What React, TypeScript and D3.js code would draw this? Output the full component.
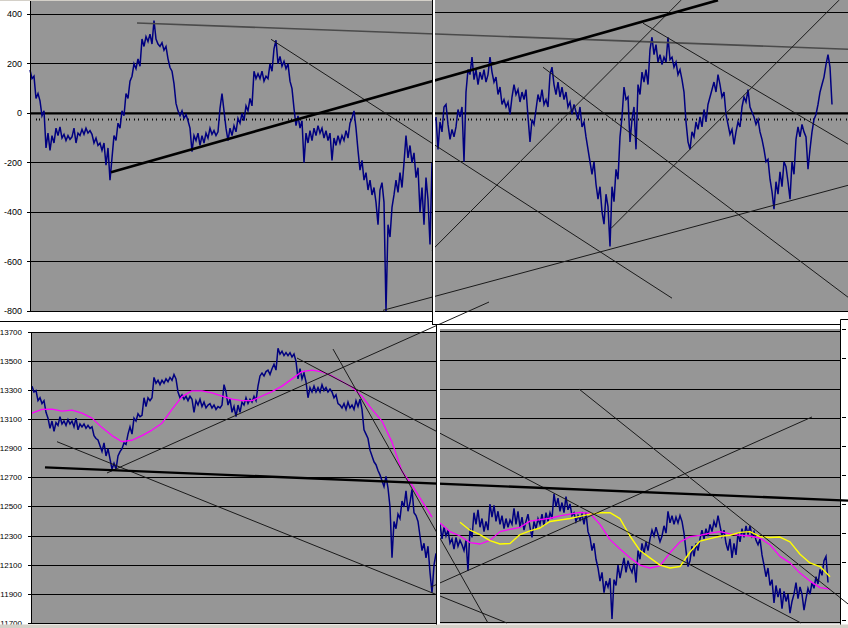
import React from "react";
import * as d3 from "d3";

// ---------- tick labels ----------
const topTicks = [400, 200, 0, -200, -400, -600, -800];
const bottomTicks = [13700, 13500, 13300, 13100, 12900, 12700, 12500, 12300, 12100, 11900, 11700];
const dottedLevel = -25;

// ---------- top row series (bar index, 1 bar = one sample) ----------
const topLeftStart = 0;
const topLeftValues = [
  175, 140, 150, 60, 80, 50, -10, 10, -140, -80,
  -150, -90, -120, -60, -90, -55, -100, -85, -110, -90,
  -105, -95, -60, -120, -80, -90, -65, -85, -60, -80,
  -70, -85, -120, -100, -130, -120, -150, -120, -210, -140,
  -270, -180, -90, -110, -40, -60, 10, -10, 80, 60,
  130, 150, 200, 180, 220, 190, 300, 270, 310, 290,
  320, 280, 375, 300, 280, 270, 285, 255, 270, 220,
  185, 170, 120, 40, 10, -10, 10, -20, -5, -30,
  -60, -155, -90, -110, -80, -130, -90, -120, -80, -100,
  -60, -85, -70, -90, -75, 20, 80, 10, -60, -110,
  -60, -90, -50, -75, -20, -40, 0, -30, 30, 10,
  60, 30, 170, 140, 160, 140, 170, 130, 150, 140,
  200, 170, 260, 295, 200, 230, 190, 210, 180, 200,
  130, 100, 20, -50, -10, -60, -30, -200, -80, -120,
  -70, -110, -60, -90, -50, -80, -60, -100, -70, -110,
  -80, -190, -100, -130, -90, -120, -90, -110, -70, -100,
  -40, -20, 10, -60, -150, -230, -190, -270, -240, -310,
  -270, -330, -300, -360, -450, -310, -280, -360, -800, -450,
  -500, -380, -330, -270, -320, -240, -300, -200, -90, -180,
  -130, -200, -160, -260, -220, -400, -300, -450, -260, -350,
  -530, -200,
];

const topRightStart = 203;
const topRightValues = [
  -20, -150, -40, -80, 20, 30, -50, -110, -70, -100,
  -60, 10, -20, 20, -200, 80, 170, 150, 220, 130,
  170, 110, 160, 130, 170, 120, 150, 220, 160, 120,
  140, 70, 100, 30, 50, 20, 40, -10, 60, 110,
  70, 90, 40, 80, 50, 90, -20, -120, -30, -50,
  10, 70, 40, 90, 30, 50, 20, 150, 180, 110,
  70, 120, 60, 100, 50, 80, 20, 40, -10, 30,
  0, -30, 20, -60, -40, -100, -150, -200, -250, -200,
  -290, -350, -300, -400, -450, -330, -380, -540, -300, -360,
  -230, -270, -100, -20, 100, 50, 60, -120, -30, 20,
  -150, 110, 70, 160, 120, 170, 110, 250, 300, 230,
  270, 200, 230, 190, 220, 200, 300, 210, 220, 180,
  200, 150, 170, 130, 80, -40, -120, -150, -80, -100,
  -40, -70, -20, -60, 10, -40, 30, 60, 90, 120,
  80, 150, 110, 60, 80, -10, -50, -90, -70, -130,
  -80, -40, -60, 20, 60, 40, 90, 20, 0, -20,
  -50, -30, -80, -110, -150, -200, -190, -270, -320, -390,
  -280, -330, -240, -300, -200, -220, -280, -350, -200, -250,
  -110, -60, -100, -50, -80, -100, -230, -150, -80, -30,
  -10, 30, 80, 110, 140, 190, 230, 180, 30,
];

// ---------- bottom row series ----------
const bottomLeftStart = 0;
const bottomLeftValues = [
  13330, 13290, 13300, 13230, 13250, 13210, 13230, 13150, 13110, 13040,
  13090, 13020, 13080, 13060, 13120, 13070, 13090, 13060, 13100, 13070,
  13090, 13050, 13110, 13030, 13070, 13050, 13070, 13040, 13060, 13040,
  13050, 12990, 12970, 12960, 12920, 12880, 12940, 12850, 12900, 12830,
  12760, 12800, 12760, 12850, 12880, 12900, 12940, 12930, 13000, 13050,
  13000, 13110, 13090, 13140, 13120, 13130, 13250, 13190, 13250, 13230,
  13250, 13390, 13350, 13370, 13340, 13370, 13350, 13380, 13360, 13390,
  13370, 13410, 13380, 13290, 13250, 13270, 13240, 13260, 13230, 13260,
  13240, 13150, 13230, 13200, 13240, 13190, 13220, 13180, 13200, 13210,
  13180, 13200, 13170, 13190, 13180, 13200, 13340, 13290, 13200, 13240,
  13150, 13190, 13120, 13200, 13150, 13220, 13200, 13250, 13210, 13240,
  13220, 13260, 13230, 13330, 13400, 13420, 13400, 13430, 13440, 13410,
  13450, 13480, 13440, 13590, 13550, 13570, 13540, 13560, 13540, 13560,
  13530, 13550, 13500, 13380, 13450, 13380, 13420, 13360, 13250, 13320,
  13290, 13330, 13290, 13320, 13290, 13340, 13300, 13320, 13290, 13310,
  13290, 13250, 13270, 13210, 13200, 13180, 13210, 13170, 13220, 13180,
  13200, 13170, 13230, 13190, 13240, 13170, 13030, 13000, 12970, 12890,
  12850, 12810, 12790, 12750, 12720, 12680, 12640, 12710, 12630, 12500,
  12150, 12400, 12350, 12450, 12420, 12540, 12500, 12610, 12470, 12530,
  12620, 12460, 12440, 12400, 12300, 12200, 12250, 12150, 12230, 12050,
  11910, 12100, 12180,
];

const bottomLeftAvgStart = 0;
const avgStep = 5;
const bottomLeftAvg = [
  13145, 13170, 13172, 13158, 13165, 13145, 13110, 13045, 12990, 12948,
  12958, 12990, 13028, 13075, 13170, 13258, 13298, 13298, 13283, 13262,
  13240, 13230, 13230, 13262, 13292, 13330, 13380, 13430, 13440, 13428,
  13400, 13362, 13322, 13260, 13170, 13090, 12945, 12745, 12650, 12540,
  12430,
];

const bottomRightStart = 204;
const bottomRightValues = [
  12380, 12280, 12360, 12300, 12340, 12250, 12280, 12210, 12290, 12230,
  12270, 12240, 12200, 12270, 12060, 12350, 12290, 12460, 12380, 12480,
  12360, 12420, 12330, 12400, 12340, 12520, 12430, 12510, 12400, 12470,
  12380, 12440, 12350, 12420, 12360, 12410, 12380, 12490, 12380, 12470,
  12360, 12430, 12340, 12400, 12450, 12360, 12290, 12400, 12350, 12420,
  12380, 12450, 12370, 12460, 12400, 12460, 12420, 12590, 12500, 12560,
  12470, 12530, 12460, 12570, 12480, 12520, 12440, 12460, 12400, 12440,
  12410, 12450, 12380, 12460, 12330, 12290, 12200, 12250, 12140, 12080,
  11990, 12050, 11910, 11990, 11950, 12010, 11730, 12000, 11960, 12100,
  12010, 12080, 12150, 12050, 12130, 12080, 12050, 12110, 11980, 12200,
  12140, 12250, 12180, 12260, 12200, 12280, 12340, 12300, 12360, 12310,
  12260, 12300, 12370, 12320, 12470, 12390, 12440, 12380, 12430, 12390,
  12440, 12400, 12320, 12200, 12090, 12130, 12230, 12160, 12250, 12200,
  12280, 12340, 12280, 12350, 12300, 12380, 12330, 12400, 12360, 12440,
  12370, 12300, 12340, 12250, 12200, 12280, 12150, 12250, 12170, 12320,
  12260, 12350, 12290, 12370, 12310, 12370, 12300, 12330, 12270, 12240,
  12280, 12170, 12100, 12020, 12080, 11960, 12000, 11840, 11960, 11880,
  11940, 11800, 11920, 11850, 11900, 11770, 11850, 11900, 11980, 11870,
  11950, 11900, 11790, 11870, 11940, 11900, 11980, 11940, 12020, 11970,
  12070, 12030, 12130, 12160, 11980,
];

const bottomRightAvgStart = 204;
const bottomRightAvg = [
  12390, 12330, 12300, 12255, 12245, 12270, 12330, 12345, 12360, 12402,
  12412, 12422, 12438, 12450, 12462, 12455, 12380, 12275, 12210, 12150,
  12100, 12080, 12095, 12185, 12260, 12295, 12305, 12320, 12330, 12315,
  12305, 12300, 12285, 12240, 12160, 12115, 12045, 11990, 11945, 11935,
];

const bottomRightSlowStart = 214;
const bottomRightSlow = [
  12395, 12340, 12310, 12268, 12245, 12248, 12310, 12335, 12355, 12400,
  12410, 12420, 12435, 12450, 12460, 12460, 12420, 12300, 12200, 12150,
  12100, 12080, 12090, 12190, 12265, 12282, 12298, 12305, 12325, 12330,
  12295, 12290, 12293, 12260, 12175, 12115, 12090, 12020,
];

// ---------- hand-drawn trend lines [bar1, value1, bar2, value2] ----------
const topThickLines = [[40.5, -238, 344, 457]];
const topGreyLines = [[53.5, 365, 409, 259]];
const topThinLines = [
  [120.5, 299, 321, -747],
  [176.5, -796, 409, -291],
  [201, -553, 325.5, 457],
  [290.5, -465, 404.5, 457],
  [256.5, 186, 409, -743],
  [306.5, 364, 409, -125],
];
const bottomThickLines = [[6.5, 12772, 408, 12543]];
const bottomThinLines = [
  [12.5, 12948, 237.5, 11702],
  [37.5, 12733, 228.5, 13908],
  [150.5, 13585, 228, 11702],
  [132.5, 13523, 384.5, 11702],
  [273.5, 13310, 408, 11833],
  [199.5, 11950, 390, 13118],
];

const GREY = "#969696";
const NAVY = "#000080";
const FONT = "'Liberation Sans', Arial, sans-serif";

export default function App() {
  const W = 848;
  const H = 628;
  const xTop = d3.scaleLinear().domain([0, 409]).range([30, 848]);
  const yTopL = d3.scaleLinear().domain([-800, 400]).range([311.3, 14.3]);
  const yTopR = d3.scaleLinear().domain([-800, 400]).range([311.3, 12.3]);
  const xBot = d3.scaleLinear().domain([0, 409]).range([32, 850]);
  const yBot = d3.scaleLinear().domain([11700, 13700]).range([623.3, 332.3]);

  const path = (vals: number[], start: number, step: number, x: any, y: any) =>
    d3
      .line<number>()
      .x((_, i) => x(start + i * step))
      .y((v) => y(v))(vals) || "";

  const seg = (l: number[], x: any, y: any) => ({
    x1: x(l[0]),
    y1: y(l[1]),
    x2: x(l[2]),
    y2: y(l[3]),
  });

  const crisp = (v: number) => Math.round(v) + 0.5;

  return (
    <svg
      width={W}
      height={H}
      style={{ position: "fixed", left: 0, top: 0, background: "#fff" }}
      fontFamily={FONT}
    >
      <rect x={0} y={0} width={W} height={H} fill="#fff" />
      <rect x={0} y={0} width={W} height={1} fill="#d4d0c8" />

      {/* plot backgrounds */}
      <rect x={30} y={1} width={402} height={310.5} fill={GREY} />
      <rect x={435} y={0} width={413} height={311.5} fill={GREY} />
      <rect x={32} y={332} width={404} height={291.5} fill={GREY} />
      <rect x={440} y={329} width={400} height={294.5} fill={GREY} />

      {/* gridlines */}
      <g stroke="#000" strokeWidth={1} shapeRendering="crispEdges">
        {topTicks
          .filter((t) => t !== 0)
          .map((t) => (
            <g key={t}>
              <line x1={30} x2={432} y1={crisp(yTopL(t) - 0.5)} y2={crisp(yTopL(t) - 0.5)} />
              <line x1={435} x2={848} y1={crisp(yTopR(t) - 0.5)} y2={crisp(yTopR(t) - 0.5)} />
            </g>
          ))}
        {bottomTicks.map((t) => (
          <g key={t}>
            <line x1={32} x2={436} y1={crisp(yBot(t) - 0.5)} y2={crisp(yBot(t) - 0.5)} />
            <line x1={440} x2={840} y1={crisp(yBot(t) - 1.2)} y2={crisp(yBot(t) - 1.2)} />
          </g>
        ))}
      </g>

      {/* zero line and dotted reference */}
      <line x1={30} x2={848} y1={yTopL(0)} y2={yTopL(0)} stroke="#000" strokeWidth={2.2} />
      <line
        x1={36}
        x2={848}
        y1={yTopL(dottedLevel)}
        y2={yTopL(dottedLevel)}
        stroke="#000"
        strokeWidth={2}
        strokeDasharray="1,2,1,4,1,3,1,5"
      />

      {/* series */}
      <g fill="none" strokeLinejoin="miter">
        <path d={path(topLeftValues, topLeftStart, 1, xTop, yTopL)} stroke={NAVY} strokeWidth={1.5} />
        <path d={path(topRightValues, topRightStart, 1, xTop, yTopR)} stroke={NAVY} strokeWidth={1.5} />
        <path d={path(bottomLeftValues, bottomLeftStart, 1, xBot, yBot)} stroke={NAVY} strokeWidth={1.5} />
        <path d={path(bottomRightValues, bottomRightStart, 1, xBot, yBot)} stroke={NAVY} strokeWidth={1.5} />
        <path
          d={path(bottomLeftAvg, bottomLeftAvgStart, avgStep, xBot, yBot)}
          stroke="#ff00ff"
          strokeWidth={1.3}
          strokeLinejoin="round"
        />
        <path
          d={path(bottomRightAvg, bottomRightAvgStart, avgStep, xBot, yBot)}
          stroke="#ff00ff"
          strokeWidth={1.3}
          strokeLinejoin="round"
        />
        <path
          d={path(bottomRightSlow, bottomRightSlowStart, avgStep, xBot, yBot)}
          stroke="#ffff00"
          strokeWidth={1.4}
          strokeLinejoin="round"
        />
      </g>

      {/* trend lines */}
      <g>
        {topGreyLines.map((l, i) => (
          <line key={"tg" + i} {...seg(l, xTop, yTopL)} stroke="#4a4a4a" strokeWidth={1.6} />
        ))}
        {topThinLines.map((l, i) => (
          <line key={"tt" + i} {...seg(l, xTop, yTopL)} stroke="#1a1a1a" strokeWidth={1} />
        ))}
        {topThickLines.map((l, i) => (
          <line key={"tk" + i} {...seg(l, xTop, yTopL)} stroke="#000" strokeWidth={2.6} />
        ))}
        {bottomThinLines.map((l, i) => (
          <line key={"bt" + i} {...seg(l, xBot, yBot)} stroke="#1a1a1a" strokeWidth={1} />
        ))}
        {bottomThickLines.map((l, i) => (
          <line key={"bk" + i} {...seg(l, xBot, yBot)} stroke="#000" strokeWidth={2.4} />
        ))}
      </g>

      {/* frames and dividers */}
      <rect x={433} y={0} width={2} height={311.5} fill="#fff" />
      <line x1={432.5} x2={432.5} y1={0} y2={325} stroke="#000" strokeWidth={1} />
      <line x1={0} x2={432.5} y1={321.5} y2={321.5} stroke="#000" strokeWidth={1} />
      <line x1={432} x2={840.5} y1={324.5} y2={324.5} stroke="#000" strokeWidth={1} />
      <rect x={437} y={325} width={3} height={299} fill="#fff" />
      <line x1={436.5} x2={436.5} y1={324.5} y2={625} stroke="#000" strokeWidth={1} />
      <line x1={840.5} x2={840.5} y1={319.5} y2={625} stroke="#000" strokeWidth={1} />
      <line x1={840.5} x2={848} y1={319.5} y2={319.5} stroke="#000" strokeWidth={1} />
      {bottomTicks
        .filter((t) => t !== 13300 && t !== 11900)
        .map((t) => (
          <line
            key={"rt" + t}
            x1={842}
            x2={846}
            y1={crisp(yBot(t) - 3)}
            y2={crisp(yBot(t) - 3)}
            stroke="#000"
            strokeWidth={1}
          />
        ))}

      {/* left axes */}
      <line x1={30.5} x2={30.5} y1={1} y2={312} stroke="#000" strokeWidth={1} />
      {topTicks.map((t) => (
        <g key={"ta" + t}>
          <line x1={27} x2={30} y1={crisp(yTopL(t) - 0.5)} y2={crisp(yTopL(t) - 0.5)} stroke="#000" />
          <text
            x={22}
            y={yTopL(t)}
            textAnchor="end"
            dominantBaseline="central"
            fontSize={9}
            fill="#000"
          >
            {t}
          </text>
        </g>
      ))}
      <line x1={31.5} x2={31.5} y1={332} y2={624} stroke="#000" strokeWidth={1} />
      {bottomTicks.map((t) => (
        <g key={"ba" + t}>
          <line x1={28} x2={31} y1={crisp(yBot(t) - 0.5)} y2={crisp(yBot(t) - 0.5)} stroke="#000" />
          <text
            x={22}
            y={yBot(t)}
            textAnchor="end"
            dominantBaseline="central"
            fontSize={8}
            fill="#000"
          >
            {t}
          </text>
        </g>
      ))}

      {/* window status strip */}
      <rect x={0} y={624.5} width={W} height={4} fill="#d4d0c8" />
    </svg>
  );
}
